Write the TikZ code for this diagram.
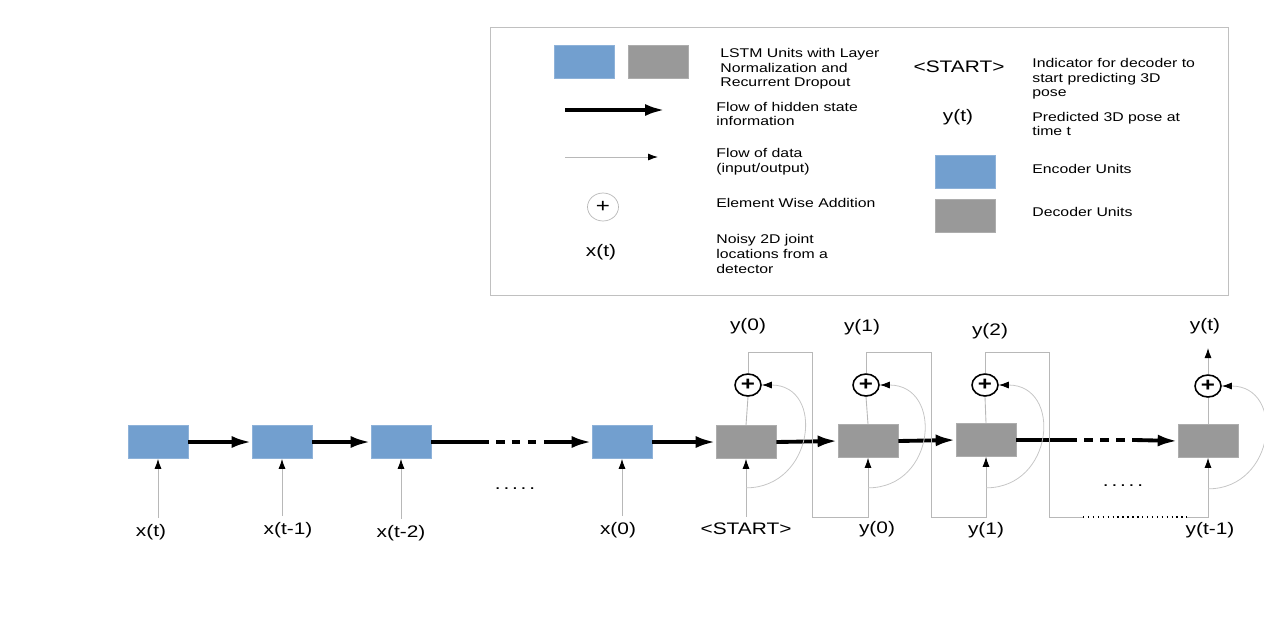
\documentclass[tikz,border=0pt]{standalone}
\usepackage{fontspec}
\setmainfont[FakeStretch=1.25]{Liberation Sans}
\usetikzlibrary{arrows.meta,positioning,calc,shapes.geometric}
\definecolor{encblue}{HTML}{729FCF}
\definecolor{decgray}{HTML}{999999}
\definecolor{lgray}{HTML}{B8B8B8}
\definecolor{frame}{HTML}{C0C0C0}

\begin{document}
\begin{tikzpicture}[
  x=0.02cm, y=-0.02cm,
  encUnit/.style={fill=encblue, draw=encblue!80!white, minimum width=1.2cm, minimum height=0.66cm, inner sep=0},
  decUnit/.style={fill=decgray, draw=decgray!80!white, minimum width=1.2cm, minimum height=0.66cm, inner sep=0},
  addOp/.style={ellipse, draw=black, line width=0.9pt, fill=white, inner sep=0, minimum width=0.52cm, minimum height=0.44cm, font=\fontsize{11}{11}\selectfont\bfseries},
  hid/.style={-{Latex[length=0.4cm, width=0.24cm]}, line width=2.2pt},
  hidln/.style={line width=2.2pt},
  hidgap/.style={line width=2.2pt, dash pattern=on 0.17cm off 0.15cm},
  dat/.style={draw=lgray, line width=0.5pt, -{Latex[color=black, length=0.2cm, width=0.14cm]}},
  loopln/.style={draw=lgray, line width=0.5pt},
  skip/.style={draw=lgray!80, line width=0.45pt, -{Latex[color=black, length=0.2cm, width=0.14cm]}},
  lbl/.style={font=\fontsize{9.5}{11}\selectfont},
  dots/.style={font=\fontsize{9.5}{11}\selectfont},
  txt/.style={font=\fontsize{7.2}{8.3}\selectfont, align=left, anchor=west, inner sep=0},
]
\useasboundingbox (0,0) rectangle (1264,623);

\node[draw=frame, minimum width=14.76cm, minimum height=5.36cm] (legend) at (859,161) {};
\node[encUnit] (kenc) at (584,62) {};
\node[decUnit] (kdec) at (658,62) {};
\node[txt] at (720,69) {LSTM Units with Layer\\Normalization and\\Recurrent Dropout};
\coordinate (khs) at (565,110);
\coordinate (khe) at (665,110);
\draw[hid] (khs) -- (khe);
\node[txt] at (716,114) {Flow of hidden state\\information};
\coordinate (kds) at (565,157);
\coordinate (kde) at (658,157);
\draw[dat] (kds) -- (kde);
\node[txt] at (716,162) {Flow of data\\(input/output)};
\node[addOp, draw=lgray, line width=0.4pt, minimum width=0.62cm, minimum height=0.56cm, font=\fontsize{11}{11}\selectfont] (kadd) at (603,207) {+};
\node[txt] at (716,203) {Element Wise Addition};
\node[lbl] (kx) at (601,252) {x(t)};
\node[txt] at (716,254) {Noisy 2D joint\\locations from a\\detector};
\node[lbl] (kst) at (959,67) {<START>};
\node[txt] at (1032,79) {Indicator for decoder to\\start predicting 3D\\pose};
\node[lbl] (ky) at (958,117) {y(t)};
\node[txt] at (1032,124) {Predicted 3D pose at\\time t};
\node[encUnit] (kenc2) at (965,172) {};
\node[txt] at (1032,169) {Encoder Units};
\node[decUnit] (kdec2) at (965,216) {};
\node[txt] at (1032,212) {Decoder Units};

\node[encUnit] (enc1) at (158,442) {};
\node[encUnit] (enc2) at (282,442) {};
\node[encUnit] (enc3) at (401,442) {};
\node[encUnit] (enc4) at (622,442) {};
\node[decUnit] (dec1) at (746,442) {};
\node[decUnit] (dec2) at (868,441) {};
\node[decUnit] (dec3) at (986,440) {};
\node[decUnit] (dec4) at (1208,441) {};

\node[addOp] (add1) at (748,385) {+};
\node[addOp] (add2) at (866,385) {+};
\node[addOp] (add3) at (985,385) {+};
\node[addOp] (add4) at (1208,386) {+};

\node[lbl] (xt) at (151,532) {x(t)};
\node[lbl] (xt1) at (288,530) {x(t-1)};
\node[lbl] (xt2) at (401,533) {x(t-2)};
\node[lbl] (x0) at (618,530) {x(0)};
\node[lbl] (start) at (746,529) {<START>};
\node[lbl] (yb0) at (877,529) {y(0)};
\node[lbl] (yb1) at (986,530) {y(1)};
\node[lbl] (ybt1) at (1210,530) {y(t-1)};
\node[lbl] (yo0) at (748,326) {y(0)};
\node[lbl] (yo1) at (862,327) {y(1)};
\node[lbl] (yo2) at (990,331) {y(2)};
\node[lbl] (yot) at (1205,326) {y(t)};
\node[dots] (encdots) at (515,489) {.\,.\,.\,.\,.};
\node[dots] (decdots) at (1123,486) {.\,.\,.\,.\,.};

\draw[hid] (enc1.east) -- (enc2.west);
\draw[hid] (enc2.east) -- (enc3.west);
\coordinate (e1) at (480,442);
\coordinate (e2) at (548,442);
\draw[hidln] (enc3.east) -- (e1);
\draw[hidgap] (e1) -- (e2);
\draw[hid] (e2) -- (enc4.west);
\draw[hid] (enc4.east) -- (dec1.west);
\draw[hid] (dec1.east) -- (dec2.west);
\draw[hid] (dec2.east) -- (dec3.west);
\coordinate (d1) at (1068,440);
\coordinate (d2) at (1135,440);
\draw[hidln] (dec3.east) -- (d1);
\draw[hidgap] (d1) -- (d2);
\draw[hid] (d2) -- (dec4.west);

\draw[dat] (enc1.south |- xt.north) -- (enc1.south);
\draw[dat] (enc2.south |- xt1.north) -- (enc2.south);
\draw[dat] (enc3.south |- xt2.north) -- (enc3.south);
\draw[dat] (enc4.south |- x0.north) -- (enc4.south);
\draw[dat] (start.north) -- (dec1.south);

\draw[loopln] (dec1.north) -- (add1.south);
\draw[loopln] (dec2.north) -- (add2.south);
\draw[loopln] (dec3.north) -- (add3.south);
\draw[loopln] (dec4.north) -- (add4.south);

\coordinate (t1) at (812,352);
\coordinate (b1) at (812,517);
\coordinate (t2) at (931,352);
\coordinate (b2) at (931,517);
\coordinate (t3) at (1049,352);
\coordinate (b3) at (1049,517);
\coordinate (b3a) at (1083,517);
\coordinate (b3b) at (1187,517);
\coordinate (yend) at (1208,348);
\draw[dat] (add1.north) |- (t1) -- (b1) -| (dec2.south);
\draw[dat] (add2.north) |- (t2) -- (b2) -| (dec3.south);
\draw[loopln] (add3.north) |- (t3) -- (b3) -- (b3a);
\draw[dotted, thick] (b3a) -- (b3b);
\draw[dat] (b3b) -| (dec4.south);
\draw[dat] (add4.north) -- (yend);

\draw[skip] ($(dec1.south)+(0,29)$) .. controls +(68,0) and +(64,0) .. (add1.east);
\draw[skip] ($(dec2.south)+(0,30)$) .. controls +(68,0) and +(64,0) .. (add2.east);
\draw[skip] ($(dec3.south)+(0,31)$) .. controls +(68,0) and +(64,0) .. (add3.east);
\draw[skip] ($(dec4.south)+(0,31)$) .. controls +(68,0) and +(64,0) .. (add4.east);

\end{tikzpicture}
\end{document}
